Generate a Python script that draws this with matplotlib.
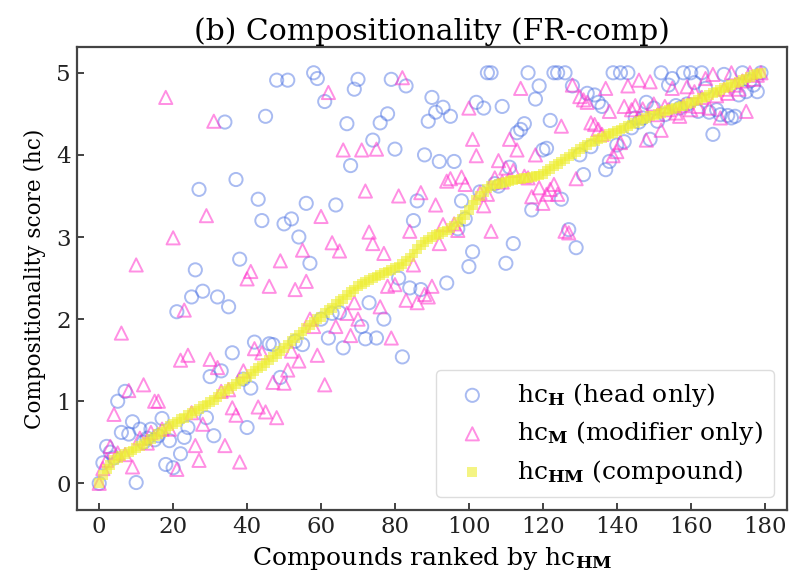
import matplotlib
matplotlib.use('Agg')
import matplotlib.pyplot as plt

# ---------------- data ----------------
compound_rank = list(range(180))

hc_HM = [
    0.00, 0.10, 0.17, 0.22, 0.28, 0.31, 0.33, 0.36, 0.38, 0.40,
    0.43, 0.45, 0.48, 0.51, 0.54, 0.57, 0.60, 0.63, 0.66, 0.70,
    0.72, 0.75, 0.78, 0.80, 0.83, 0.86, 0.88, 0.91, 0.94, 0.96,
    0.99, 1.02, 1.05, 1.09, 1.12, 1.15, 1.18, 1.21, 1.24, 1.27,
    1.30, 1.33, 1.37, 1.40, 1.43, 1.47, 1.50, 1.54, 1.58, 1.61,
    1.65, 1.69, 1.73, 1.77, 1.81, 1.85, 1.89, 1.93, 1.96, 2.00,
    2.03, 2.07, 2.11, 2.14, 2.18, 2.22, 2.25, 2.29, 2.33, 2.36,
    2.40, 2.43, 2.45, 2.48, 2.50, 2.52, 2.54, 2.56, 2.58, 2.60,
    2.62, 2.64, 2.67, 2.71, 2.75, 2.80, 2.85, 2.90, 2.94, 2.97,
    3.00, 3.02, 3.04, 3.06, 3.08, 3.11, 3.14, 3.18, 3.22, 3.27,
    3.33, 3.39, 3.45, 3.50, 3.55, 3.59, 3.62, 3.64, 3.65, 3.66,
    3.67, 3.68, 3.69, 3.70, 3.71, 3.72, 3.72, 3.73, 3.74, 3.75,
    3.77, 3.80, 3.83, 3.86, 3.89, 3.92, 3.95, 3.98, 4.01, 4.04,
    4.07, 4.10, 4.12, 4.15, 4.17, 4.19, 4.21, 4.23, 4.25, 4.27,
    4.29, 4.31, 4.33, 4.35, 4.37, 4.39, 4.41, 4.43, 4.45, 4.47,
    4.48, 4.50, 4.51, 4.53, 4.55, 4.56, 4.57, 4.59, 4.60, 4.62,
    4.63, 4.65, 4.67, 4.69, 4.71, 4.73, 4.75, 4.77, 4.79, 4.81,
    4.83, 4.85, 4.87, 4.89, 4.91, 4.93, 4.95, 4.97, 4.99, 5.00,
]

hc_H = [
    0.00, 0.25, 0.45, 0.38, 0.31, 1.00, 0.62, 1.12, 0.60, 0.75,
    0.01, 0.66, 0.50, 0.55, 0.66, 0.53, 0.58, 0.79, 0.23, 0.52,
    0.19, 2.09, 0.36, 0.56, 0.68, 2.27, 2.60, 3.58, 2.34, 0.80,
    1.30, 0.58, 2.27, 1.37, 4.40, 2.15, 1.59, 3.70, 2.73, 1.27,
    0.68, 1.16, 1.72, 3.46, 3.20, 4.47, 1.70, 1.69, 4.91, 1.29,
    3.16, 4.91, 3.22, 1.73, 3.00, 1.69, 3.41, 2.68, 5.00, 4.93,
    2.00, 4.65, 1.77, 2.07, 3.39, 2.08, 1.65, 4.38, 3.87, 4.80,
    4.92, 1.91, 1.76, 2.20, 4.18, 1.77, 4.39, 2.00, 4.50, 4.92,
    4.07, 2.50, 1.54, 4.84, 2.38, 3.20, 3.44, 2.36, 4.00, 4.41,
    4.70, 4.52, 3.92, 4.58, 2.44, 4.47, 3.92, 3.10, 3.44, 3.22,
    2.64, 2.82, 4.64, 3.55, 4.57, 5.00, 5.00, 3.65, 3.62, 4.59,
    2.68, 3.85, 2.92, 4.27, 4.31, 4.38, 5.00, 3.33, 4.68, 4.84,
    4.06, 4.08, 4.42, 5.00, 5.00, 3.46, 5.00, 3.09, 4.84, 2.87,
    4.00, 3.76, 4.75, 4.10, 4.73, 4.64, 4.59, 3.82, 3.92, 5.00,
    4.12, 5.00, 4.16, 5.00, 4.33, 4.45, 4.40, 4.45, 4.64, 4.19,
    4.57, 4.41, 5.00, 4.49, 4.85, 4.93, 4.60, 4.57, 5.00, 4.62,
    5.00, 4.88, 4.53, 5.00, 4.81, 4.52, 4.25, 4.55, 4.49, 4.98,
    4.48, 4.45, 4.47, 4.73, 5.00, 4.77, 4.90, 4.85, 4.77, 5.00,
]

hc_M = [
    0.00, 0.18, 0.28, 0.45, 0.84, 0.37, 1.83, 0.35, 1.13, 0.20,
    2.66, 0.55, 1.20, 0.49, 0.62, 1.00, 1.00, 0.66, 4.70, 0.66,
    2.99, 0.17, 1.50, 2.11, 1.56, 0.86, 0.46, 0.28, 0.72, 3.26,
    1.51, 4.41, 1.41, 1.12, 0.46, 1.14, 0.92, 0.83, 0.26, 1.37,
    2.49, 2.58, 1.64, 0.93, 1.59, 0.87, 2.40, 1.23, 0.80, 2.71,
    1.22, 1.38, 1.61, 2.36, 1.49, 2.84, 2.46, 2.00, 1.91, 1.56,
    3.25, 1.20, 4.76, 2.93, 1.91, 2.83, 4.06, 2.07, 1.80, 2.20,
    2.00, 4.06, 3.56, 3.06, 2.92, 4.07, 2.15, 2.80, 2.40, 1.77,
    2.42, 3.50, 4.94, 2.23, 3.07, 2.66, 2.20, 3.54, 2.30, 2.27,
    2.40, 3.39, 2.92, 3.15, 3.68, 3.71, 3.16, 3.08, 3.73, 3.64,
    4.57, 4.19, 3.99, 3.54, 3.38, 3.52, 3.07, 3.72, 3.93, 3.67,
    3.84, 4.19, 3.81, 4.06, 4.81, 3.74, 3.72, 3.49, 4.00, 3.60,
    3.41, 3.52, 3.58, 3.64, 3.52, 4.35, 3.07, 3.05, 4.85, 3.71,
    4.71, 4.67, 4.64, 4.39, 4.37, 4.31, 4.25, 4.81, 4.53, 3.99,
    4.04, 4.15, 4.59, 4.84, 4.55, 4.60, 4.91, 4.56, 4.18, 4.89,
    4.62, 4.49, 4.30, 4.59, 4.55, 4.81, 4.51, 4.47, 4.60, 4.83,
    4.55, 4.77, 4.59, 4.70, 4.93, 4.57, 4.98, 4.72, 4.45, 4.80,
    4.75, 5.00, 4.85, 4.80, 4.90, 4.53, 5.00, 4.92, 4.97, 5.00,
]

x_ticks = [0, 20, 40, 60, 80, 100, 120, 140, 160, 180]
y_ticks = [0, 1, 2, 3, 4, 5]

# ---------------- style ----------------
plt.rcParams['font.family'] = ['DejaVu Serif']
plt.rcParams['mathtext.fontset'] = 'dejavuserif'

fig = plt.figure(figsize=(7.94, 5.75), dpi=100)
ax = fig.add_axes([0.097, 0.1137, 0.894, 0.804])

ax.scatter(compound_rank, hc_H, s=90, marker='o', facecolors='none',
           edgecolors='#4169e1', linewidths=1.4, alpha=0.45,
           label=r'hc$_{\mathbf{H}}$ (head only)')
ax.scatter(compound_rank, hc_M, s=90, marker='^', facecolors='none',
           edgecolors='#ff33cc', linewidths=1.4, alpha=0.55,
           label=r'hc$_{\mathbf{M}}$ (modifier only)')
ax.scatter(compound_rank, hc_HM, s=50, marker='s', color='#eeee33',
           edgecolors='none', alpha=0.6,
           label=r'hc$_{\mathbf{HM}}$ (compound)')

ax.set_xlim(-6, 186)
ax.set_ylim(-0.32, 5.31)
ax.set_xticks(x_ticks)
ax.set_yticks(y_ticks)
ax.tick_params(direction='in', length=5, width=1.2, labelsize=16.5,
               colors='#222222', pad=4.5)
for sp in ax.spines.values():
    sp.set_linewidth(1.6)
    sp.set_color('#444444')

ax.set_title('(b) Compositionality (FR-comp)', fontsize=21.5, pad=5)
ax.set_xlabel(r'Compounds ranked by hc$_{\mathbf{HM}}$', fontsize=18, labelpad=5)
ax.set_ylabel('Compositionality score (hc)', fontsize=15.5, labelpad=7)

leg = ax.legend(loc='lower right', fontsize=18, frameon=True, fancybox=True,
                edgecolor='#dddddd', framealpha=1.0, borderpad=0.45,
                handletextpad=0.8, labelspacing=0.42, borderaxespad=0.5)

fig.savefig('out.png', dpi=100)
